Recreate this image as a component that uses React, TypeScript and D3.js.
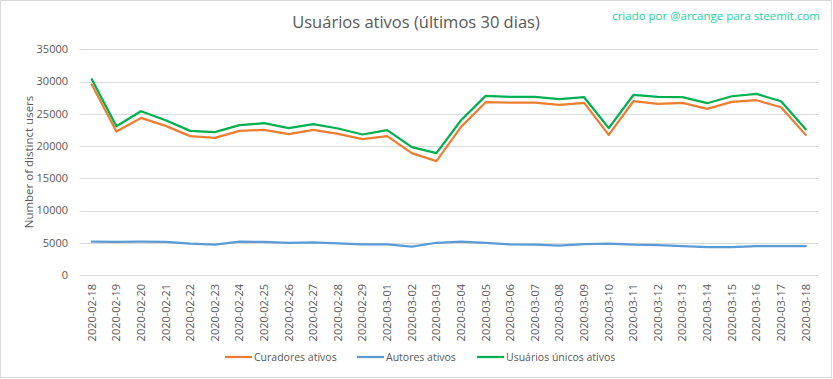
import React from "react";
import * as d3 from "d3";

const dates = [
  "2020-02-18","2020-02-19","2020-02-20","2020-02-21","2020-02-22","2020-02-23","2020-02-24","2020-02-25","2020-02-26","2020-02-27","2020-02-28","2020-02-29",
  "2020-03-01","2020-03-02","2020-03-03","2020-03-04","2020-03-05","2020-03-06","2020-03-07","2020-03-08","2020-03-09","2020-03-10","2020-03-11","2020-03-12","2020-03-13","2020-03-14","2020-03-15","2020-03-16","2020-03-17","2020-03-18",
];

const curadores = [
  29530, 22250, 24360, 23120, 21530, 21270, 22350, 22500, 21840, 22500, 21890, 21060,
  21530, 18890, 17650, 22970, 26790, 26740, 26740, 26380, 26690, 21730, 26950, 26530, 26690, 25760, 26840, 27100, 26020, 21730,
];

const autores = [
  5160, 5150, 5160, 5150, 4850, 4700, 5160, 5150, 5000, 5060, 4900, 4750,
  4750, 4390, 5000, 5160, 5000, 4750, 4700, 4540, 4800, 4850, 4700, 4650, 4490, 4340, 4340, 4490, 4490, 4490,
];

const unicos = [
  30350, 23075, 25400, 24000, 22350, 22150, 23230, 23540, 22770, 23390, 22720, 21790,
  22460, 19820, 18890, 24000, 27770, 27620, 27620, 27260, 27570, 22770, 27920, 27620, 27570, 26640, 27720, 28080, 26950, 22610,
];

const yTicks = [0, 5000, 10000, 15000, 20000, 25000, 30000, 35000];

const seriesNames = ["Curadores ativos", "Autores ativos", "Usuários únicos ativos"];
const seriesColors = ["#ED7D31", "#5B9BD5", "#00B050"];

const W = 833;
const H = 379;
const FONT = "'Open Sans', sans-serif";
const TXT = "#595959";

export default function App() {
  const x = d3.scalePoint<string>().domain(dates).range([79.5, 818]).padding(0.5);
  const y = d3.scaleLinear().domain([0, 35000]).range([275, 49.3]);
  const line = d3
    .line<number>()
    .x((_, i) => x(dates[i]) as number)
    .y((d) => y(d));

  const series = [curadores, autores, unicos];
  const legendX = [225, 357, 477];

  return (
    <svg
      width={W}
      height={H}
      style={{ position: "absolute", left: 0, top: 0, background: "#fff" }}
      fontFamily={FONT}
    >
      <rect x={0.5} y={0.5} width={831} height={377} fill="#fff" stroke="#d9d9d9" />
      <text x={416} y={28} textAnchor="middle" fontSize={16.5} fill={TXT}>
        Usuários ativos (últimos 30 dias)
      </text>
      <text x={820} y={20} textAnchor="end" fontSize={11.5} fill="#22d3a0">
        criado por @arcange para steemit.com
      </text>

      {yTicks.map((t) => (
        <g key={t}>
          <line x1={79.5} x2={818} y1={Math.round(y(t)) + 0.5} y2={Math.round(y(t)) + 0.5} stroke="#d9d9d9" strokeWidth={1} />
          <text x={68} y={y(t)} dy="0.35em" textAnchor="end" fontSize={11} fill={TXT}>
            {t}
          </text>
        </g>
      ))}

      <text
        transform={`translate(29,162) rotate(-90)`}
        textAnchor="middle"
        dy="0.35em"
        fontSize={11.5}
        fill={TXT}
      >
        Number of distinct users
      </text>

      {dates.map((d) => (
        <text
          key={d}
          transform={`translate(${x(d)},284) rotate(-90)`}
          textAnchor="end"
          dy="0.35em"
          fontSize={11}
          fill={TXT}
        >
          {d}
        </text>
      ))}

      {series.map((s, i) => (
        <path
          key={i}
          d={line(s) as string}
          fill="none"
          stroke={seriesColors[i]}
          strokeWidth={2.25}
          strokeLinejoin="round"
          strokeLinecap="round"
        />
      ))}

      {seriesNames.map((n, i) => (
        <g key={n}>
          <line x1={legendX[i]} x2={legendX[i] + 27} y1={357} y2={357} stroke={seriesColors[i]} strokeWidth={2.25} />
          <text x={legendX[i] + 29} y={357} dy="0.35em" fontSize={10.5} fill={TXT}>
            {n}
          </text>
        </g>
      ))}
    </svg>
  );
}
